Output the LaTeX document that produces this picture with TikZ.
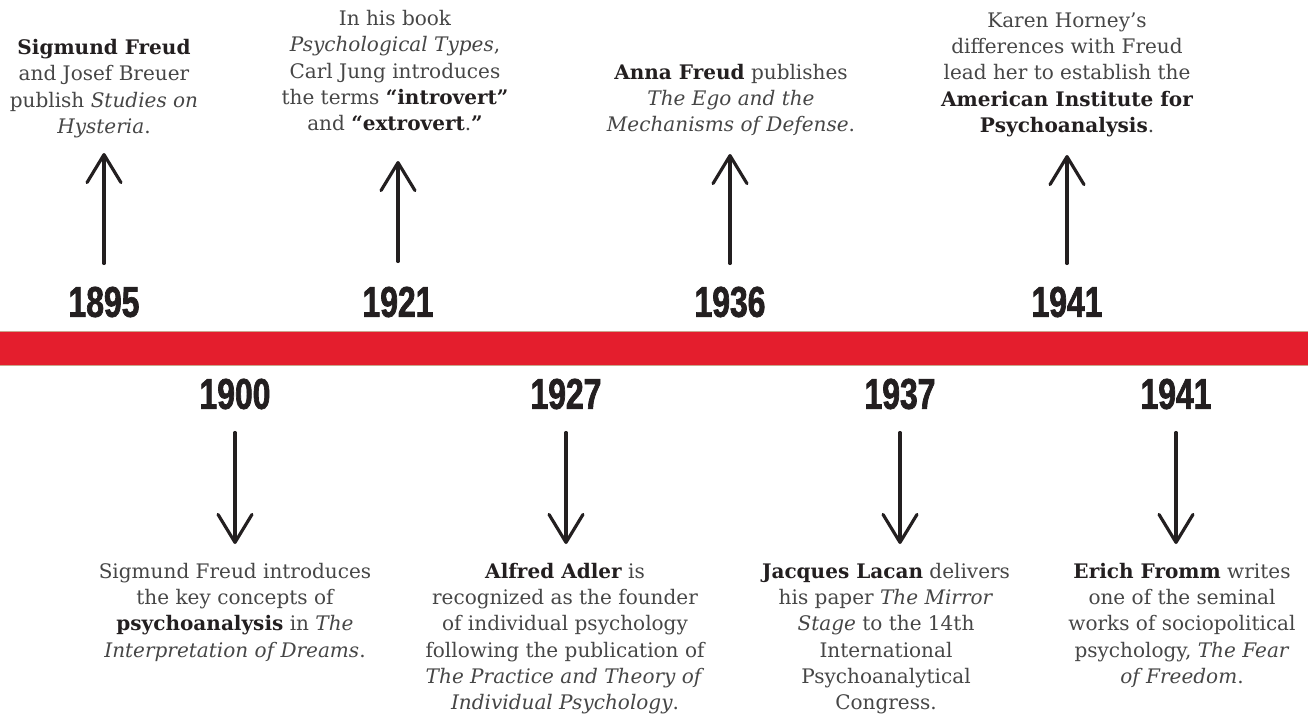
\documentclass[tikz,border=0pt]{standalone}
\usepackage{fontspec}
\setmainfont{DejaVu Serif}
\newfontfamily\yearfont[FakeStretch=0.74, FakeBold=1.6]{Liberation Sans Bold}
\usetikzlibrary{arrows.meta}
\definecolor{barred}{HTML}{E41E2D}
\definecolor{baredge}{HTML}{C9A68C}
\definecolor{inkgray}{HTML}{464646}
\definecolor{inkdark}{HTML}{231F20}
\newcommand{\hl}[1]{\textbf{\color{inkdark}#1}}

\begin{document}
\begin{tikzpicture}[
  year/.style={font=\yearfont\fontsize{24.5}{24.5}\selectfont, text=inkdark, inner sep=0pt},
  event/.style={align=center, font=\fontsize{11.4}{14.9}\selectfont, text=inkgray, inner sep=0pt},
  pointer/.style={draw=inkdark, line width=1.9pt, line cap=round, -{Straight Barb[length=0.56cm, width=0.68cm, line width=1.8pt, round]}}
]
  \useasboundingbox (0,0) rectangle (26.16,-14.34);

  % Timeline bar
  \fill[barred] (0,-6.62) rectangle (26.16,-7.3);
  \draw[baredge, line width=0.4pt] (0,-6.62) -- (26.16,-6.62) (0,-7.3) -- (26.16,-7.3);

  % Years above the bar
  \node[year] (y1895) at (2.08,-6.04) {1895};
  \node[year] (y1921) at (7.96,-6.04) {1921};
  \node[year] (y1936) at (14.6,-6.04) {1936};
  \node[year] (y1941a) at (21.34,-6.04) {1941};

  % Years below the bar
  \node[year] (y1900) at (4.7,-7.88) {1900};
  \node[year] (y1927) at (11.32,-7.88) {1927};
  \node[year] (y1937) at (18.0,-7.88) {1937};
  \node[year] (y1941b) at (23.52,-7.88) {1941};

  % Events above
  \node[event, anchor=south] (e1895) at (2.08,-2.76) {\hl{Sigmund Freud}\\ and Josef Breuer\\ publish \emph{Studies on}\\ \emph{Hysteria}.};
  \node[event, anchor=south] (e1921) at (7.9,-2.62) {In his book\\ \emph{Psychological Types},\\ Carl Jung introduces\\ the terms \hl{“introvert”}\\ and \hl{“extrovert}.\hl{”}};
  \node[event, anchor=south] (e1936) at (14.62,-2.72) {\hl{Anna Freud} publishes\\ \emph{The Ego and the}\\ \emph{Mechanisms of Defense}.};
  \node[event, anchor=south] (e1941a) at (21.34,-2.74) {Karen Horney’s\\ differences with Freud\\ lead her to establish the\\ \hl{American Institute for}\\ \hl{Psychoanalysis}.};

  % Events below
  \node[event, anchor=north] (e1900) at (4.7,-11.26) {Sigmund Freud introduces\\ the key concepts of\\ \hl{psychoanalysis} in \emph{The}\\ \emph{Interpretation of Dreams}.};
  \node[event, anchor=north] (e1927) at (11.3,-11.26) {\hl{Alfred Adler} is\\ recognized as the founder\\ of individual psychology\\ following the publication of\\ \emph{The Practice and Theory of}\\ \emph{Individual Psychology}.};
  \node[event, anchor=north] (e1937) at (17.72,-11.26) {\hl{Jacques Lacan} delivers\\ his paper \emph{The Mirror}\\ \emph{Stage} to the 14th\\ International\\ Psychoanalytical\\ Congress.};
  \node[event, anchor=north] (e1941b) at (23.64,-11.26) {\hl{Erich Fromm} writes\\ one of the seminal\\ works of sociopolitical\\ psychology, \emph{The Fear}\\ \emph{of Freedom}.};

  % Arrows up
  \draw[pointer, shorten <=0.46cm, shorten >=0.3cm] (y1895.north) -- (y1895.north |- e1895.south);
  \draw[pointer, shorten <=0.5cm, shorten >=0.6cm] (y1921.north) -- (y1921.north |- e1921.south);
  \draw[pointer, shorten <=0.46cm, shorten >=0.36cm] (y1936.north) -- (y1936.north |- e1936.south);
  \draw[pointer, shorten <=0.46cm, shorten >=0.36cm] (y1941a.north) -- (y1941a.north |- e1941a.south);

  % Arrows down
  \draw[pointer, shorten <=0.46cm, shorten >=0.38cm] (y1900.south) -- (y1900.south |- e1900.north);
  \draw[pointer, shorten <=0.46cm, shorten >=0.38cm] (y1927.south) -- (y1927.south |- e1927.north);
  \draw[pointer, shorten <=0.46cm, shorten >=0.38cm] (y1937.south) -- (y1937.south |- e1937.north);
  \draw[pointer, shorten <=0.46cm, shorten >=0.38cm] (y1941b.south) -- (y1941b.south |- e1941b.north);

\end{tikzpicture}
\end{document}
